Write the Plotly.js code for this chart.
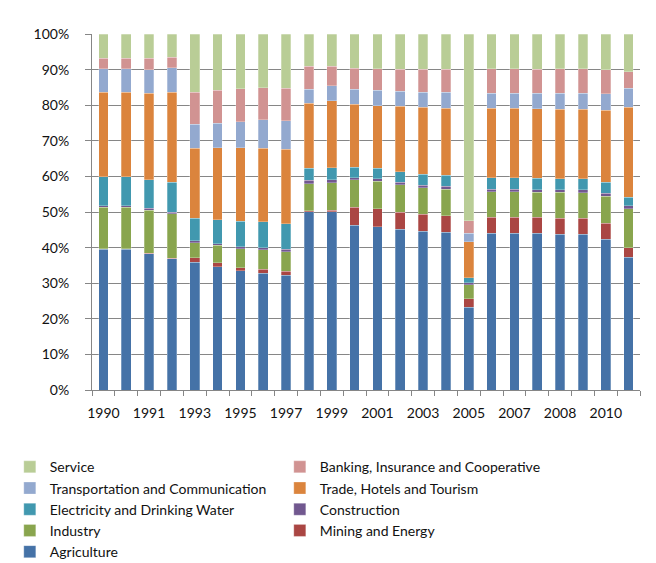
<!DOCTYPE html>
<html>
<head>
<meta charset="utf-8">
<script src="https://cdn.plot.ly/plotly-3.0.1.min.js"></script>
<style>html,body{margin:0;padding:0;background:#fff;}#chart{width:656px;height:563px;}</style>
</head>
<body>
<div id="chart"></div>
<script>
// Category labels for each bar (24 bars); every other one is shown on the axis
var years = ["1990","1990","1991","1992","1993","1994","1995","1996","1997","1998","1999","2000",
             "2001","2002","2003","2004","2005","2006","2007","2007","2008","2009","2010","2011"];

// Y tick labels
var yTickVals = [0,10,20,30,40,50,60,70,80,90,100];
var yTickText = ["0%","10%","20%","30%","40%","50%","60%","70%","80%","90%","100%"];

// Shares (%) of each sector
var agriculture    = [39.6,39.6,38.3,36.9,35.9,34.6,33.5,32.8,32.2,50.1,50.1,46.3,45.9,45.2,44.6,44.3,23.3,44.1,44.1,44.0,43.8,43.7,42.4,37.3];
var mining         = [0.1,0.1,0.1,0.1,1.3,1.2,0.9,1.1,1.1,0.3,0.4,5.0,5.0,4.8,4.8,4.6,2.4,4.4,4.4,4.5,4.4,4.5,4.4,2.7];
var industry       = [11.6,11.6,12.1,12.5,4.2,4.8,5.3,5.5,5.6,7.6,7.7,7.7,7.7,7.6,7.4,7.5,3.8,7.2,7.2,7.1,7.3,7.2,7.6,10.9];
var construction   = [0.5,0.5,0.5,0.4,0.5,0.5,0.6,0.6,0.7,0.9,0.9,0.6,0.8,0.7,0.7,0.9,0.6,0.7,0.7,0.7,0.8,0.8,0.8,0.9];
var electricity    = [8.1,8.1,8.0,8.4,6.3,6.7,7.1,7.3,7.1,3.4,3.3,3.0,2.9,3.0,3.1,3.0,1.5,3.2,3.2,3.2,3.1,3.2,3.2,2.4];
var trade          = [23.8,23.8,24.3,25.4,19.7,20.2,20.7,20.6,20.9,18.2,18.9,17.7,17.6,18.4,18.8,18.9,10.1,19.5,19.5,19.5,19.4,19.4,20.2,25.2];
var transport      = [6.5,6.5,6.7,6.8,6.8,7.0,7.2,8.0,8.1,4.0,4.1,4.2,4.3,4.2,4.2,4.4,2.4,4.3,4.3,4.3,4.5,4.5,4.6,5.3];
var banking        = [3.0,3.0,3.2,3.0,8.9,9.2,9.3,9.0,9.1,6.4,5.5,5.9,6.0,6.2,6.5,6.5,3.4,6.8,6.8,6.8,6.9,7.0,6.7,4.7];
var service        = [6.8,6.8,6.8,6.5,16.4,15.8,15.4,15.1,15.2,9.1,9.1,9.6,9.8,9.9,9.9,9.9,52.5,9.8,9.8,9.9,9.8,9.7,10.1,10.6];

var seriesNames = ["Agriculture","Mining and Energy","Industry","Construction","Electricity and Drinking Water",
                   "Trade, Hotels and Tourism","Transportation and Communication","Banking, Insurance and Cooperative","Service"];
var seriesValues = [agriculture, mining, industry, construction, electricity, trade, transport, banking, service];
var seriesColors = ["#4572A7","#AA4643","#89A54E","#71588F","#4198AF","#DB843D","#93A9CF","#D19392","#B9CD96"];

var idx = years.map(function(_, i){ return i; });
var tickVals = idx.filter(function(i){ return i % 2 === 0; });
var tickText = tickVals.map(function(i){ return years[i]; });

var traces = seriesNames.map(function(name, k){
  return {
    type: 'bar',
    name: name,
    x: idx,
    y: seriesValues[k],
    marker: {color: seriesColors[k], line: {color: 'rgba(255,255,255,0.45)', width: 0.6}},
    hoverinfo: 'name+y'
  };
});

var font = {family: 'Lato, "Open Sans", sans-serif', size: 14, color: '#111111'};

var layout = {
  width: 656, height: 563,
  margin: {l: 92, r: 16, t: 34, b: 173, pad: 0, autoexpand: false},
  paper_bgcolor: 'rgba(0,0,0,0)',
  plot_bgcolor: '#ffffff',
  barmode: 'stack',
  barnorm: 'percent',
  bargap: 0.58,
  font: font,
  showlegend: true,
  xaxis: {
    range: [-0.5, 23.5],
    tickmode: 'array', tickvals: tickVals, ticktext: tickText,
    ticks: '', showgrid: false, zeroline: false,
    showline: true, linecolor: '#868686', linewidth: 1,
    ticklabelstandoff: 10,
    tickfont: font,
    minor: {tickmode: 'linear', tick0: -0.5, dtick: 1, ticks: 'outside', ticklen: 5, tickcolor: '#868686', tickwidth: 1, showgrid: false}
  },
  yaxis: {
    range: [0, 100],
    tickmode: 'array', tickvals: yTickVals, ticktext: yTickText,
    ticks: 'outside', ticklen: 6, tickcolor: '#868686',
    showgrid: true, gridcolor: '#868686', gridwidth: 1,
    zeroline: false, showline: true, linecolor: '#868686', linewidth: 1,
    ticklabelstandoff: 13,
    tickfont: font
  },
  legend: {
    orientation: 'h',
    traceorder: 'reversed',
    x: -0.15, xanchor: 'left',
    y: -0.172, yanchor: 'top',
    entrywidthmode: 'pixels', entrywidth: 225,
    font: {family: font.family, size: 14, color: font.color},
    bgcolor: 'rgba(0,0,0,0)'
  }
};

Plotly.newPlot('chart', traces, layout, {displayModeBar: false, staticPlot: true});
</script>
</body>
</html>
